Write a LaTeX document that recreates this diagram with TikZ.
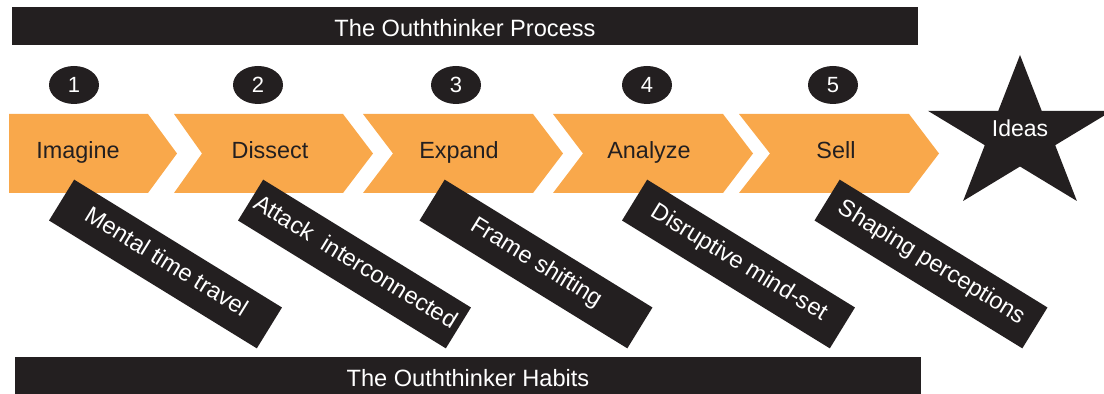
\documentclass[tikz,border=0pt]{standalone}
\usepackage{fontspec}
\setmainfont{Liberation Sans}
\usetikzlibrary{shapes.geometric}
\definecolor{orng}{HTML}{F9A84B}
\definecolor{blk}{HTML}{231F20}
\begin{document}
\begin{tikzpicture}[x=0.5pt,y=-0.5pt,
  bartext/.style={text=white, font=\fontsize{11.8}{14}\selectfont, anchor=base, inner sep=0},
  chev/.style={fill=orng, draw=none},
  chevtext/.style={text=blk, font=\fontsize{11.7}{14}\selectfont, anchor=base, inner sep=0},
  numbadge/.style={ellipse, fill=blk, text=white, minimum width=25pt, minimum height=19pt, inner sep=0, font=\fontsize{11}{13}\selectfont},
  habit/.style={rectangle, fill=blk, text=white, rotate=-31.6, minimum width=122pt, minimum height=24pt, inner sep=0, font=\fontsize{11.8}{14}\selectfont, text height=0.72em, text depth=0.21em},
]
\useasboundingbox (0,0) rectangle (1104,394);
% bars
\fill[blk] (12,7) rectangle (918,45);
\node[bartext] (proc) at (465,37) {The Ouththinker Process};
\fill[blk] (15,357) rectangle (921,394);
\node[bartext] (habits) at (468,387) {The Ouththinker Habits};
% chevrons
\fill[chev] (9,114) -- (148,114) -- (177,153.5) -- (148,193) -- (9,193) -- cycle;
\fill[chev] (174,114) -- (343,114) -- (373,153.5) -- (343,193) -- (174,193) -- (202,153.5) -- cycle;
\fill[chev] (363,114) -- (533,114) -- (563,153.5) -- (533,193) -- (363,193) -- (393,153.5) -- cycle;
\fill[chev] (553,114) -- (723,114) -- (753,153.5) -- (723,193) -- (553,193) -- (583,153.5) -- cycle;
\fill[chev] (739,114) -- (909,114) -- (939,153.5) -- (909,193) -- (739,193) -- (770,153.5) -- cycle;
\node[chevtext] (imagine) at (78,159) {Imagine};
\node[chevtext] (dissect) at (270,159) {Dissect};
\node[chevtext] (expand) at (459,159) {Expand};
\node[chevtext] (analyze) at (649,159) {Analyze};
\node[chevtext] (sell) at (836,159) {Sell};
% numbers
\node[numbadge] (n1) at (74,85) {1};
\node[numbadge] (n2) at (258,85) {2};
\node[numbadge] (n3) at (456,85) {3};
\node[numbadge] (n4) at (647,85) {4};
\node[numbadge] (n5) at (833,85) {5};
% star
\fill[blk] (1020,55) -- (1041.7,110.8) -- (1112.1,110.8) -- (1055.2,145.2) -- (1076.9,201)
  -- (1020,166.5) -- (963.1,201) -- (984.8,145.2) -- (927.9,110.8) -- (998.3,110.8) -- cycle;
\node[bartext, font=\fontsize{11.5}{14}\selectfont] (ideas) at (1020,136.5) {Ideas};
% habits
\node[habit] (h1) at (165.5,264) {Mental time travel};
\node[habit] (h2) at (354.5,264) {Attack\ \ interconnected};
\node[habit] (h3) at (536,264) {Frame shifting};
\node[habit] (h4) at (738.5,264) {Disruptive mind-set};
\node[habit] (h5) at (931,264) {Shaping perceptions};
\end{tikzpicture}
\end{document}
